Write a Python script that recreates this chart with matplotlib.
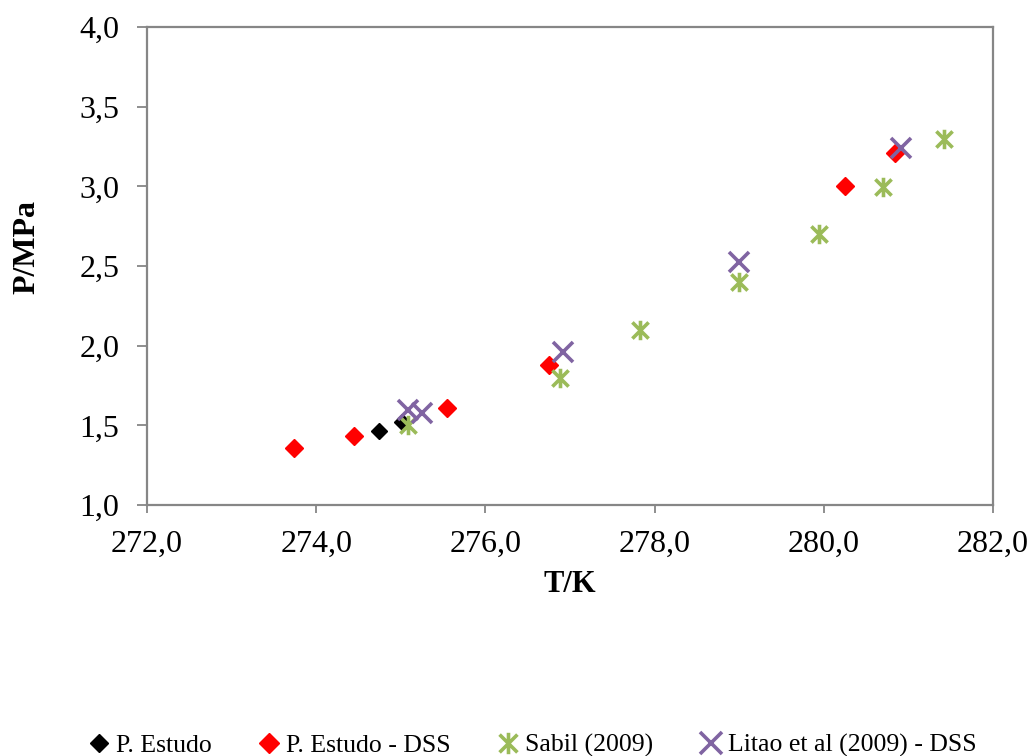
import matplotlib
matplotlib.use('Agg')
import matplotlib.pyplot as plt
from matplotlib.path import Path
from matplotlib.ticker import FuncFormatter

plt.rcParams['font.family'] = ['Liberation Serif', 'DejaVu Serif']

# P. Estudo
t_estudo = [274.74, 275.01]
p_estudo = [1.465, 1.52]

# P. Estudo - DSS
t_dss = [273.74, 274.45, 275.55, 276.75, 280.25, 280.84]
p_dss = [1.358, 1.433, 1.609, 1.879, 3.002, 3.21]

# Sabil (2009)
t_sabil = [275.09, 276.88, 277.83, 279.0, 279.94, 280.70, 281.42]
p_sabil = [1.50, 1.80, 2.10, 2.40, 2.70, 2.995, 3.30]

# Litao et al (2009) - DSS
t_litao = [275.09, 275.25, 276.92, 279.0, 280.91]
p_litao = [1.596, 1.578, 1.96, 2.525, 3.24]

# excel style star marker: X with a vertical bar
star = Path([(-1, -1), (1, 1), (-1, 1), (1, -1), (0, -1.2), (0, 1.2)],
            [Path.MOVETO, Path.LINETO, Path.MOVETO, Path.LINETO, Path.MOVETO, Path.LINETO])

fig = plt.figure(figsize=(10.32, 7.56), dpi=100)
ax = fig.add_axes([147 / 1032, 1 - 505 / 756, (993 - 147) / 1032, (505 - 27) / 756])

ax.plot(t_estudo, p_estudo, ls='none', marker='D', ms=8, color='black', label='P. Estudo')
ax.plot(t_dss, p_dss, ls='none', marker='D', ms=9, color='#FF0000', label='P. Estudo - DSS')
ax.plot(t_sabil, p_sabil, ls='none', marker=star, ms=14, mew=2.6, mfc='none',
        color='#9BBB59', label='Sabil (2009)')
ax.plot(t_litao, p_litao, ls='none', marker='x', ms=15, mew=2.6, color='#8064A2',
        label='Litao et al (2009) - DSS')

ax.set_xlim(272, 282)
ax.set_ylim(1.0, 4.0)
ax.set_xticks([272, 274, 276, 278, 280, 282])
ax.set_yticks([1.0, 1.5, 2.0, 2.5, 3.0, 3.5, 4.0])
comma = FuncFormatter(lambda v, pos: ('%.1f' % v).replace('.', ','))
ax.xaxis.set_major_formatter(comma)
ax.yaxis.set_major_formatter(comma)
ax.tick_params(direction='out', width=1.3, color='#868686', labelsize=23)
ax.tick_params(axis='x', length=6, pad=12)
ax.tick_params(axis='y', length=7, pad=13)

for s in ax.spines.values():
    s.set_color('#868686')
    s.set_linewidth(1.6)

ax.set_xlabel('T/K', fontsize=22, fontweight='bold')
ax.set_ylabel('P/MPa', fontsize=23, fontweight='bold')
ax.xaxis.set_label_coords(0.5, -0.135)
ax.yaxis.set_label_coords(-0.125, 0.54)

fig.legend(loc='lower center', bbox_to_anchor=(0.513, -0.032), ncol=4, frameon=False,
           fontsize=18.5, handletextpad=0.0, columnspacing=1.6, handlelength=1.3,
           markerscale=1.1)

fig.savefig('out.png', dpi=100)
